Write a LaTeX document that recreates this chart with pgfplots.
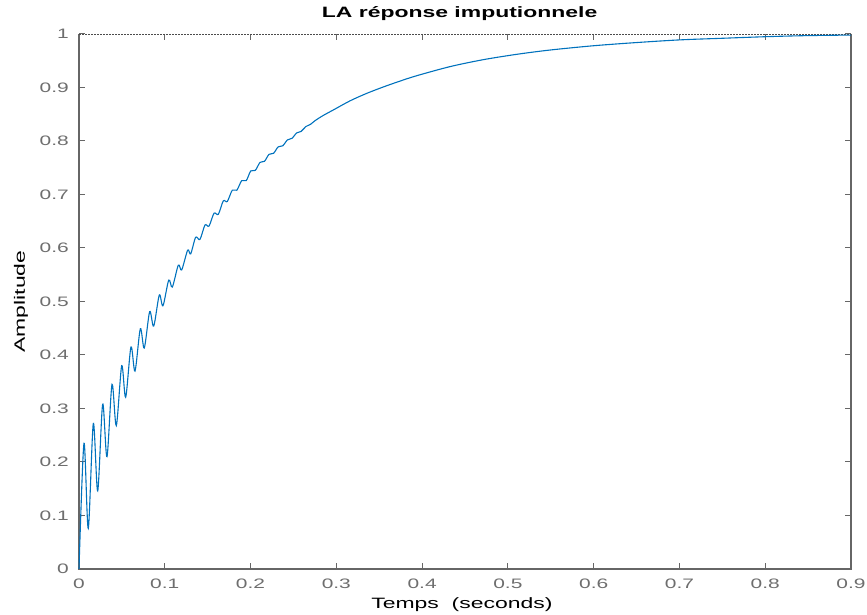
\documentclass[border=0pt]{standalone}
\usepackage{pgfplots}
\pgfplotsset{compat=1.18}
\usepackage{pgfplotstable}
\usepackage{fontspec}
\setmainfont[FakeStretch=1.53]{Liberation Sans}
\definecolor{mblue}{HTML}{0072BD}
\definecolor{axgray}{HTML}{666666}
\definecolor{lblgray}{HTML}{6E6E6E}

\pgfplotstableread{
t y
0 0
0.0058 0.235
0.0108 0.076
0.0167 0.272
0.0218 0.146
0.0276 0.308
0.0326 0.210
0.0385 0.345
0.0435 0.268
0.0498 0.380
0.0544 0.321
0.0606 0.415
0.0653 0.370
0.0715 0.449
0.0761 0.413
0.0824 0.481
0.0871 0.454
0.0936 0.512
0.0979 0.492
0.1046 0.540
0.1088 0.527
0.1158 0.568
0.1197 0.559
0.1267 0.596
0.1302 0.589
0.1360 0.620
0.1410 0.616
0.1469 0.643
0.1516 0.641
0.1574 0.665
0.1624 0.663
0.1682 0.688
0.1729 0.687
0.1787 0.708
0.1840 0.708
0.1897 0.726
0.1950 0.726
0.2002 0.744
0.2055 0.745
0.2110 0.760
0.2162 0.762
0.2215 0.775
0.2268 0.777
0.2322 0.789
0.2375 0.791
0.2430 0.802
0.2483 0.805
0.2537 0.815
0.2590 0.818
0.2645 0.827
0.2698 0.831
0.2752 0.838
0.2850 0.848
0.2965 0.858
0.3159 0.875
0.3354 0.889
0.3548 0.901
0.3743 0.912
0.3937 0.922
0.4325 0.939
0.4713 0.952
0.5103 0.962
0.5490 0.970
0.5996 0.978
0.6500 0.984
0.7006 0.989
0.7500 0.992
0.8017 0.995
0.8500 0.997
0.9000 0.998
}\datatable

\begin{document}
\begin{tikzpicture}
\useasboundingbox (0,0) rectangle (867pt,615pt);
\begin{axis}[
  at={(79pt,46pt)}, anchor=south west,
  scale only axis, width=772pt, height=535pt,
  xmin=0, xmax=0.9, ymin=0, ymax=1,
  xtick={0,0.1,...,0.9}, ytick={0,0.1,...,1},
  /pgf/number format/assume math mode=true,
  /pgf/number format/fixed,
  /pgf/number format/precision=1,
  tick align=inside,
  major tick length=6pt,
  xtick pos=both, ytick pos=both,
  tick style={axgray, line width=1pt},
  axis line style={draw=none},
  ticklabel style={font=\fontsize{13.7}{14}\selectfont, text=lblgray, inner sep=0pt},
  xticklabel style={anchor=north, yshift=-10pt},
  yticklabel style={anchor=east, xshift=-10pt},
  title={LA réponse imputionnele},
  title style={font=\fontsize{15}{16}\selectfont\bfseries, at={(axis description cs:0.493,1.0187)}, anchor=base, inner sep=0pt},
  xlabel={Temps\ \ (seconds)},
  xlabel style={font=\fontsize{15}{16}\selectfont, at={(axis description cs:0.496,-0.0730)}, anchor=base, inner sep=0pt},
  ylabel={Amplitude},
  ylabel style={font=\fontsize{15}{16}\selectfont, at={(axis description cs:-0.0700,0.5)}, anchor=base, inner sep=0pt, rotate=0},
  clip=false,
]
\draw[axgray, line width=1.6pt] (rel axis cs:0,1) -- (rel axis cs:0,0) -- (rel axis cs:1,0) -- (rel axis cs:1,1);
\draw[black!70, line width=0.8pt, dash pattern=on 2pt off 1pt] (rel axis cs:0,1) -- (rel axis cs:1,1);
\addplot[mblue, line width=1.1pt, smooth, tension=0.5] table[x=t, y=y] {\datatable};
\end{axis}
\end{tikzpicture}
\end{document}
